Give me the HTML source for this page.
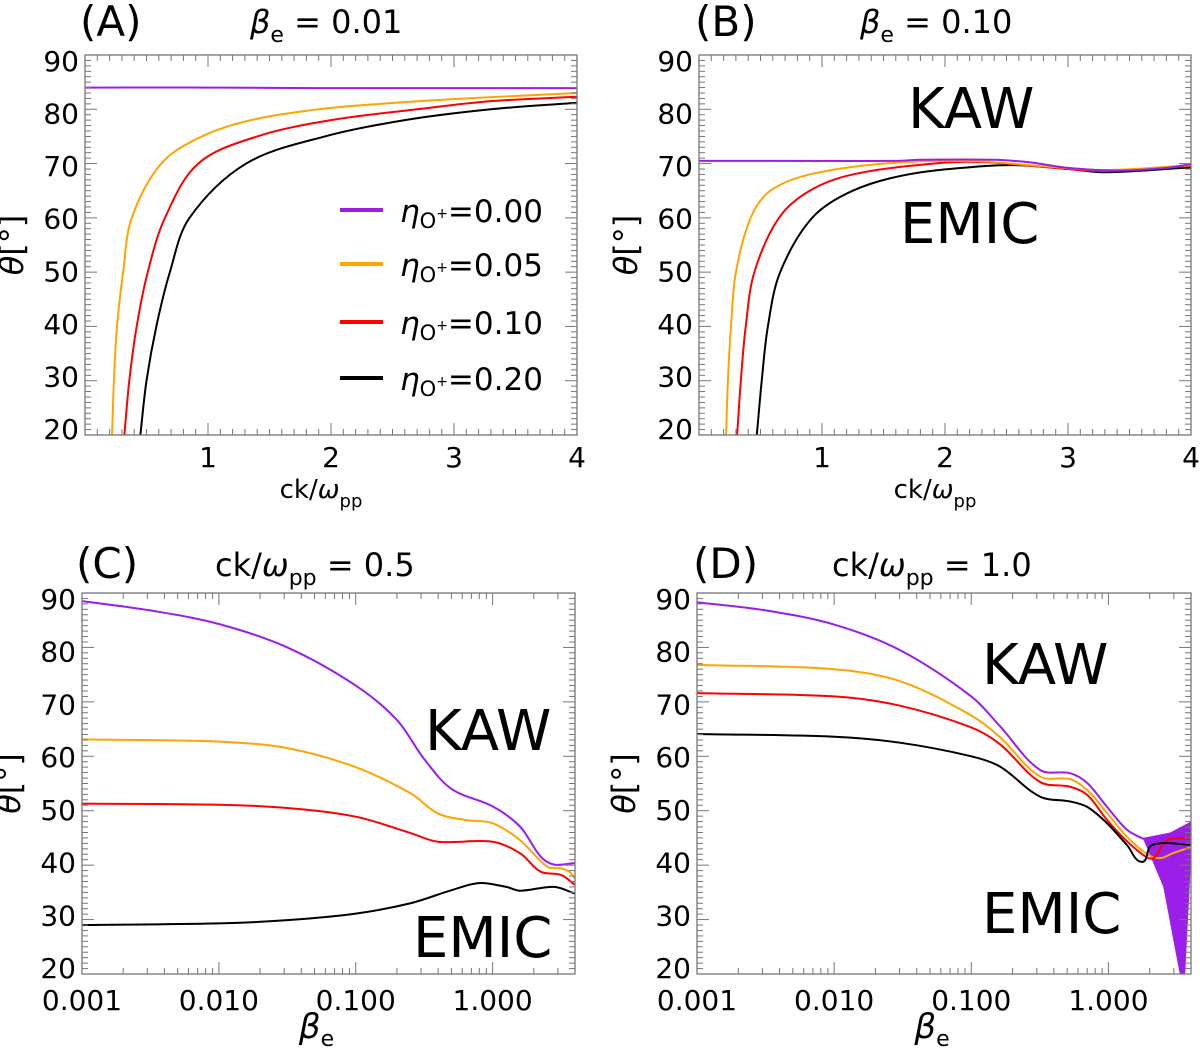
<!DOCTYPE html>
<html><head><meta charset="utf-8"><style>
body{margin:0;background:#fff;}
svg text{font-family:"DejaVu Sans","Liberation Sans",sans-serif;fill:#000;}
</style></head><body>
<svg id="fig" width="1200" height="1049" viewBox="0 0 1200 1049" xmlns="http://www.w3.org/2000/svg"></svg>
<script>
// ---------- data ----------
const colors = ["#9b1ee8","#ffa500","#ff0000","#000000"];
const legendLabels = ["=0.00","=0.05","=0.10","=0.20"];
const yTicks = [20,30,40,50,60,70,80,90];
const xTicksLin = [1,2,3,4];
const xTicksLog = [0.001,0.01,0.1,1];
const xTickLogLabels = ["0.001","0.010","0.100","1.000"];
// Panel A (x = ck/wpp)
const aPurpleX=[0,1,2,3,4], aPurpleY=[84,84,83.9,83.9,83.9];
const aOrangeX=[0.22,0.235,0.26,0.31,0.38,0.62,0.95,1.35,1.9,2.4,3.1,4];
const aOrangeY=[20,30,40,50,60,70,75,78,80,81,82,83];
const aRedX=[0.32,0.36,0.42,0.51,0.65,0.92,1.4,2.0,2.7,3.3,4];
const aRedY=[20,30,40,50,60,70,75,78,80,81.5,82.3];
const aBlackX=[0.45,0.5,0.58,0.69,0.85,1.31,1.95,2.6,3.3,4];
const aBlackY=[20,30,40,50,60,70,75,78,80,81.2];
// Panel B
const bPurpleX=[0,1.6,1.8,2.4,2.7,3.0,3.4,3.8,4], bPurpleY=[70.5,70.5,70.7,70.7,70.2,69.2,68.7,69.2,69.9];
const bOrangeX=[0.22,0.235,0.26,0.3,0.42,0.58,0.9,1.5,2.2,2.8,3.3,4];
const bOrangeY=[20,30,40,50,60,65,68,70,70.5,69.5,68.8,69.7];
const bRedX=[0.31,0.34,0.38,0.45,0.65,0.9,1.25,1.9,2.3,2.8,3.3,4];
const bRedY=[20,30,40,50,60,65,68,70,70.3,69.4,68.6,69.6];
const bBlackX=[0.47,0.51,0.56,0.66,0.92,1.25,1.7,2.3,2.6,3.0,3.3,4];
const bBlackY=[20,30,40,50,60,65,68,69.5,69.7,69,68.4,69.3];
// Panel C (x = log10 beta_e)
const cPurpleX=[-3,-2.5,-2,-1.5,-1,-0.7,-0.5,-0.3,0,0.2,0.35,0.45,0.6];
const cPurpleY=[88.5,86.8,84.3,80.0,73.0,66.7,59.5,54.0,50.8,47.1,41.6,40.1,40.4];
const cOrangeX=[-3,-2,-1.5,-1,-0.6,-0.4,-0.2,0,0.2,0.4,0.5,0.56,0.6];
const cOrangeY=[63.1,62.7,61.5,58.0,53.2,49.5,48.3,47.7,44.6,39.7,39.4,38.8,37.6];
const cRedX=[-3,-2,-1.5,-1,-0.6,-0.4,0,0.2,0.35,0.5,0.6];
const cRedY=[51.3,51.1,50.5,48.9,45.9,44.3,44.3,42.2,38.8,38.2,36.4];
const cBlackX=[-3,-2,-1.5,-1,-0.6,-0.3,-0.1,0.1,0.2,0.45,0.6];
const cBlackY=[29.0,29.3,29.9,31.1,33.0,35.4,36.7,36.0,35.3,36.0,34.8];
// Panel D
const dPurpleX=[-3,-2.5,-2,-1.52,-1,-0.79,-0.5,-0.28,-0.155,-0.01,0.135,0.256];
const dPurpleY=[88.3,86.8,84.2,79.5,71.0,65.5,57.5,56.9,55.1,50.7,46.5,44.8];
const dOrangeX=[-3,-2,-1.52,-1,-0.79,-0.5,-0.28,-0.155,-0.01,0.135,0.29,0.38,0.47,0.6];
const dOrangeY=[76.8,76.0,73.8,67.5,63.5,56.3,55.8,53.8,49.6,45.2,41.9,41.3,42.2,43.3];
const dRedX=[-3,-2,-1.52,-1,-0.79,-0.5,-0.28,-0.155,-0.01,0.135,0.27,0.33,0.43,0.6];
const dRedY=[71.6,71.0,69.3,65.3,62.2,55.3,54.4,52.9,48.3,44.4,41.6,41.3,44.6,44.8];
const dBlackX=[-3,-2,-1.52,-1,-0.79,-0.5,-0.28,-0.155,-0.01,0.135,0.245,0.318,0.6];
const dBlackY=[64.1,63.6,62.5,60.0,58.1,52.6,51.7,50.7,47.7,43.7,40.6,43.7,43.8];
const dFillX=[0.25,0.45,0.6,0.6,0.56,0.52,0.4,0.3];
const dFillY=[45,46,48,40,20,20,36,42];

const NS="http://www.w3.org/2000/svg";
const svg=document.getElementById('fig');
function el(tag,attrs,parent,txt){const e=document.createElementNS(NS,tag);for(const k in attrs)e.setAttribute(k,attrs[k]);if(txt!==undefined)e.textContent=txt;(parent||svg).appendChild(e);return e;}

function makePanel(id,L,R,T,B,xmin,xmax,isLog){
  const g=el('g',{});
  
  
  const xs=v=>L+(v-xmin)/(xmax-xmin)*(R-L);
  const ys=v=>B-(v-20)/(90-20)*(B-T);
  const clipId='clip'+id;
  const cp=el('clipPath',{id:clipId},g);el('rect',{x:L,y:T,width:R-L,height:B-T},cp);
  const plot=el('g',{'clip-path':'url(#'+clipId+')'},g);
  const fr=el('rect',{x:L,y:T,width:R-L,height:B-T,fill:'none',stroke:'#777','stroke-width':1.3},g);
  
  
  const yax=el('g',{},g);
  
  
  for(let v=20;v<=90;v+=1){const y=ys(v);const len=(v%10===0)?12:6;
    el('line',{x1:L,x2:L+len,y1:y,y2:y,stroke:'#777','stroke-width':1},yax);
    el('line',{x1:R,x2:R-len,y1:y,y2:y,stroke:'#777','stroke-width':1},yax);}
  yTicks.forEach(v=>{const off=(v-55)/35*6;const t=el('text',{x:L-6,y:ys(v)+10+off,'text-anchor':'end','font-size':28},yax,String(v));
    
    });
  const yt=el('text',{transform:`translate(${L-62},${(T+B)/2}) rotate(-90)`,'text-anchor':'middle','font-size':32},yax);
  
  
  el('tspan',{'font-style':'italic'},yt,'θ');el('tspan',{},yt,'[°]');
  const xax=el('g',{},g);
  
  
  if(!isLog){
    for(let v=0.1;v<4;v+=0.1){const x=xs(v);const major=Math.abs(v-Math.round(v))<1e-6;const len=major?12:6;
      el('line',{x1:x,x2:x,y1:B,y2:B-len,stroke:'#777','stroke-width':1},xax);
      el('line',{x1:x,x2:x,y1:T,y2:T+len,stroke:'#777','stroke-width':1},xax);}
    xTicksLin.forEach(v=>{const t=el('text',{x:xs(v),y:B+32,'text-anchor':'middle','font-size':28},xax,String(v));
      
      });
    const xt=el('text',{x:(L+R)/2-10,y:B+63,'text-anchor':'middle','font-size':26},xax);
    
    
    el('tspan',{},xt,'ck/');el('tspan',{'font-style':'italic'},xt,'ω');el('tspan',{dy:9,'font-size':18},xt,'pp');
  } else {
    for(let d=-3;d<=0;d++){for(let m=1;m<=9;m++){const lv=d+Math.log10(m);if(lv>xmax)continue;const x=xs(lv);const len=m===1?12:6;
      el('line',{x1:x,x2:x,y1:B,y2:B-len,stroke:'#777','stroke-width':1},xax);
      el('line',{x1:x,x2:x,y1:T,y2:T+len,stroke:'#777','stroke-width':1},xax);}}
    xTicksLog.forEach((v,i)=>{const t=el('text',{x:xs(Math.log10(v)),y:B+36,'text-anchor':'middle','font-size':28},xax,xTickLogLabels[i]);
      
      });
    const xt=el('text',{x:(L+R)/2-12,y:B+64,'text-anchor':'middle','font-size':34},xax);
    
    
    el('tspan',{'font-style':'italic'},xt,'β');el('tspan',{dy:8,'font-size':22},xt,'e');
  }
  return {g,plot,xs,ys,L,R,T,B};
}
function curve(p,X,Y,color,name){
  const pts=X.map((x,i)=>[p.xs(x),p.ys(Y[i])]);
  const n=pts.length;
  const tan=pts.map((q,i)=>{const a=pts[Math.max(i-1,0)],b=pts[Math.min(i+1,n-1)];
    const dx=b[0]-a[0],dy=b[1]-a[1],l=Math.hypot(dx,dy)||1;return [dx/l,dy/l];});
  let d='M'+pts[0][0]+','+pts[0][1];
  for(let i=0;i<n-1;i++){
    const p1=pts[i],p2=pts[i+1];const s=Math.hypot(p2[0]-p1[0],p2[1]-p1[1])/3;
    const c1=[p1[0]+tan[i][0]*s,p1[1]+tan[i][1]*s];
    const c2=[p2[0]-tan[i+1][0]*s,p2[1]-tan[i+1][1]*s];
    d+=` C${c1[0]},${c1[1]} ${c2[0]},${c2[1]} ${p2[0]},${p2[1]}`;
  }
  const e=el('path',{d,fill:'none',stroke:color,'stroke-width':2},p.plot);
  
  
}
function label(txt,x,y,size,name,parent){const t=el('text',{x,y,'font-size':size},parent||svg,txt);
  
  return t;}
function title(x,y,parts,name){const t=el('text',{x,y,'font-size':32});
  
  
  parts.forEach(p=>el('tspan',p[1],t,p[0]));}

const LG=Math.log10(4);
const A=makePanel('a',85,577,55,435,0,4,false);
const Bp=makePanel('b',699,1191,55,435,0,4,false);
const C=makePanel('c',82,575,593,974,-3,LG,true);
const D=makePanel('d',697,1191,593,974,-3,LG,true);

curve(A,aPurpleX,aPurpleY,colors[0],'a-series-0.00');
curve(A,aOrangeX,aOrangeY,colors[1],'a-series-0.05');
curve(A,aRedX,aRedY,colors[2],'a-series-0.10');
curve(A,aBlackX,aBlackY,colors[3],'a-series-0.20');
curve(Bp,bBlackX,bBlackY,colors[3],'b-series-0.20');
curve(Bp,bRedX,bRedY,colors[2],'b-series-0.10');
curve(Bp,bOrangeX,bOrangeY,colors[1],'b-series-0.05');
curve(Bp,bPurpleX,bPurpleY,colors[0],'b-series-0.00');
curve(C,cPurpleX,cPurpleY,colors[0],'c-series-0.00');
curve(C,cOrangeX,cOrangeY,colors[1],'c-series-0.05');
curve(C,cRedX,cRedY,colors[2],'c-series-0.10');
curve(C,cBlackX,cBlackY,colors[3],'c-series-0.20');
const fpts=dFillX.map((x,i)=>D.xs(x)+','+D.ys(dFillY[i])).join(' ');
const fill=el('polygon',{points:fpts,fill:colors[0]},D.plot);


curve(D,dPurpleX,dPurpleY,colors[0],'d-series-0.00');
curve(D,dOrangeX,dOrangeY,colors[1],'d-series-0.05');
curve(D,dRedX,dRedY,colors[2],'d-series-0.10');
curve(D,dBlackX,dBlackY,colors[3],'d-series-0.20');

const lg=el('g',{});


const legY=[210,264,322,378];
legendLabels.forEach((t,i)=>{
  const ent=el('g',{},lg);
  
  
  el('line',{x1:340,x2:383,y1:legY[i],y2:legY[i],stroke:colors[i],'stroke-width':4},ent);
  const tx=el('text',{x:400,y:legY[i]+12,'font-size':31},ent);
  el('tspan',{'font-style':'italic'},tx,'η');
  el('tspan',{dy:6,'font-size':21},tx,'O');
  el('tspan',{dy:-10,'font-size':14},tx,'+');
  el('tspan',{dy:4},tx,t);
});

label('KAW',908,128,56,'kaw-label-b');
label('EMIC',900,243,56,'emic-label-b');
label('KAW',425,750,56,'kaw-label-c');
label('EMIC',413,957,56,'emic-label-c');
label('KAW',982,684,56,'kaw-label-d');
label('EMIC',982,933,56,'emic-label-d');

label('(A)',80,36,42,'panel-letter-a');
label('(B)',695,36,42,'panel-letter-b');
label('(C)',76,578,42,'panel-letter-c');
label('(D)',693,578,42,'panel-letter-d');
title(250,33,[['β',{'font-style':'italic'}],['e',{dy:9,'font-size':22}],['  =  0.01',{dy:-9}]],'title-a');
title(860,33,[['β',{'font-style':'italic'}],['e',{dy:9,'font-size':22}],['  =  0.10',{dy:-9}]],'title-b');
title(215,576,[['ck/',{}],['ω',{'font-style':'italic'}],['pp',{dy:9,'font-size':22}],['  =  0.5',{dy:-9}]],'title-c');
title(832,576,[['ck/',{}],['ω',{'font-style':'italic'}],['pp',{dy:9,'font-size':22}],['  =  1.0',{dy:-9}]],'title-d');
</script>
</body></html>
